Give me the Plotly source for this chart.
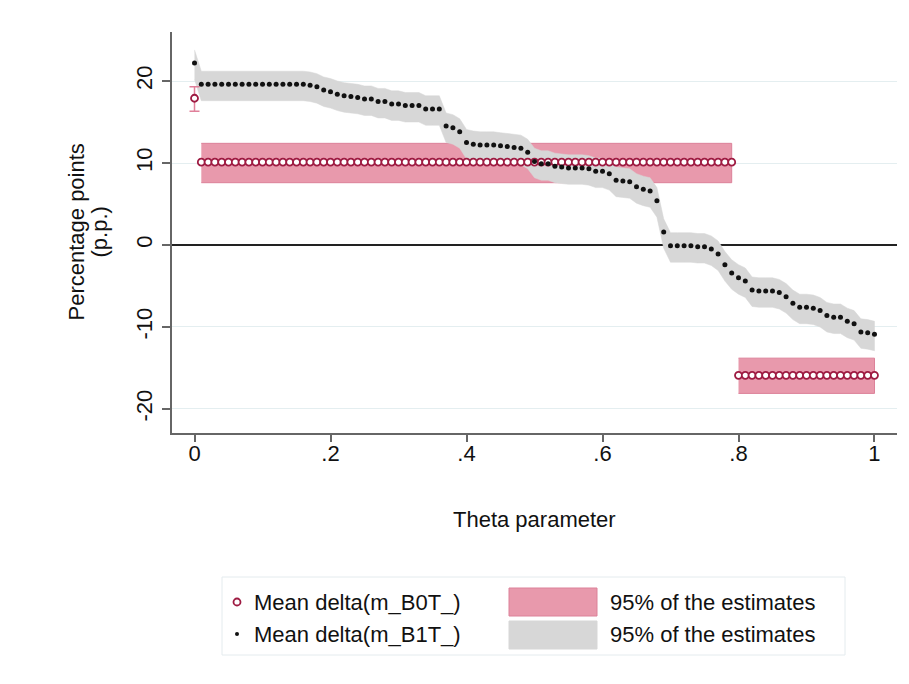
import plotly.graph_objects as go

# ---------------- data ----------------
theta = [round(i / 100, 2) for i in range(101)]
x_ticks = [0, 0.2, 0.4, 0.6, 0.8, 1]
x_ticklabels = ["0", ".2", ".4", ".6", ".8", "1"]
y_ticks = [-20, -10, 0, 10, 20]
y_ticklabels = ["-20", "-10", "0", "10", "20"]

# Mean delta(m_B1T_) (black dots) and its 95% band
b1_mean = [22.2,
           19.6, 19.6, 19.6, 19.6, 19.6, 19.6, 19.6, 19.6, 19.6, 19.6, 19.6, 19.6, 19.6, 19.6, 19.6, 19.6,
           19.5, 19.3, 18.9, 18.7, 18.4, 18.2, 18.1, 18.0, 17.8, 17.8, 17.5, 17.5, 17.2, 17.2, 17.0, 17.0,
           17.0, 16.6, 16.6, 16.6, 14.5, 14.3, 13.8, 12.5, 12.3, 12.2, 12.2, 12.2, 12.1, 12.0, 11.9, 11.8,
           11.3, 10.2, 9.9, 9.9, 9.6, 9.5, 9.4, 9.4, 9.4, 9.3, 9.0, 9.0, 8.7, 7.9, 7.8, 7.7, 7.1, 6.8, 6.6,
           5.4, 1.6, -0.1, -0.1, -0.1, -0.1, -0.2, -0.2, -0.5, -1.1, -2.4, -3.4, -4.0, -4.4, -5.5, -5.6,
           -5.6, -5.6, -5.8, -6.3, -7.1, -7.6, -7.6, -7.7, -8.0, -8.6, -8.8, -8.8, -9.3, -9.6, -10.6,
           -10.7, -10.9]
b1_hi = [23.8,
         21.2, 21.2, 21.2, 21.2, 21.2, 21.2, 21.2, 21.2, 21.2, 21.2, 21.2, 21.2, 21.2, 21.2, 21.2, 21.2,
         21.1, 20.9, 20.5, 20.3, 20.0, 19.8, 19.7, 19.6, 19.4, 19.4, 19.1, 19.1, 18.8, 18.8, 18.6, 18.6,
         18.6, 18.2, 18.2, 18.2, 16.1, 15.9, 15.4, 14.1, 13.9, 13.8, 13.8, 13.8, 13.7, 13.6, 13.5, 13.4,
         12.9, 11.8, 11.5, 11.5, 11.2, 11.1, 11.0, 11.0, 11.0, 10.9, 10.6, 10.6, 10.3, 9.5, 9.4, 9.3, 8.7,
         8.4, 8.2, 7.0, 3.2, 1.5, 1.5, 1.5, 1.5, 1.4, 1.4, 1.1, 0.5, -0.8, -1.8, -2.4, -2.8, -3.9, -4.0,
         -4.0, -4.0, -4.2, -4.7, -5.5, -6.0, -6.0, -6.1, -6.4, -7.0, -7.2, -7.2, -7.7, -8.0, -9.0,
         -9.1, -9.3]
b1_lo = [20.2,
         17.6, 17.6, 17.6, 17.6, 17.6, 17.6, 17.6, 17.6, 17.6, 17.6, 17.6, 17.6, 17.6, 17.6, 17.6, 17.6,
         17.5, 17.3, 16.9, 16.7, 16.4, 16.2, 16.1, 16.0, 15.8, 15.8, 15.5, 15.5, 15.2, 15.2, 15.0, 15.0,
         15.0, 14.6, 14.6, 14.6, 12.5, 12.3, 11.8, 10.5, 10.3, 10.2, 10.2, 10.2, 10.1, 10.0, 9.9, 9.8,
         9.3, 8.2, 7.9, 7.9, 7.6, 7.5, 7.4, 7.4, 7.4, 7.3, 7.0, 7.0, 6.7, 5.9, 5.8, 5.7, 5.1, 4.8, 4.6,
         3.4, -0.4, -2.1, -2.1, -2.1, -2.1, -2.2, -2.2, -2.5, -3.1, -4.4, -5.4, -6.0, -6.4, -7.5, -7.6,
         -7.6, -7.6, -7.8, -8.3, -9.1, -9.6, -9.6, -9.7, -10.0, -10.6, -10.8, -10.8, -11.3, -11.6, -12.6,
         -12.7, -12.9]

# Mean delta(m_B0T_) (hollow red circles) and its 95% range
b0_mean = [17.9] + [10.1] * 79 + [-15.9] * 21
b0_lo = [16.3] + [7.6] * 79 + [-18.1] * 21
b0_hi = [19.3] + [12.4] * 79 + [-13.8] * 21

legend_labels = ["Mean delta(m_B0T_)", "Mean delta(m_B1T_)",
                 "95% of the estimates", "95% of the estimates"]

# ---------------- styling ----------------
FONT = "Liberation Sans, Arial, Helvetica, sans-serif"
FS = 22
PINK = "#e899ac"
PINK_LINE = "#dc8199"
GRAY = "#d7d7d7"
MAROON = "#9e1b42"
ERR = "#e0809a"
AXIS = "#666666"

# page has an 8px body margin; plot area in page pixels
OFF = 8
L, R, T, B = 172, 897, 32, 433
PW, PH = 909, 684
W, H = PW - OFF, PH - OFF


def px2x(px):
    return (px - L) / (R - L)


def py2y(py):
    return (B - py) / (B - T)


fig = go.Figure()

# pink 95% bands for B0T (two segments)
for a, b in [(1, 80), (80, 101)]:
    xs = theta[a:b]
    fig.add_trace(go.Scatter(
        x=xs + xs[::-1], y=b0_hi[a:b] + b0_lo[a:b][::-1],
        fill="toself", fillcolor=PINK, mode="lines",
        line=dict(color=PINK_LINE, width=1), hoverinfo="skip", showlegend=False))

# gray 95% band for B1T
fig.add_trace(go.Scatter(
    x=theta + theta[::-1], y=b1_hi + b1_lo[::-1],
    fill="toself", fillcolor=GRAY, mode="lines",
    line=dict(color=GRAY, width=0.5), hoverinfo="skip", showlegend=False))

# error bar for first B0T point
fig.add_trace(go.Scatter(
    x=[theta[0]], y=[b0_mean[0]], mode="markers",
    marker=dict(size=1, color="rgba(0,0,0,0)"),
    error_y=dict(type="data", symmetric=False,
                 array=[b0_hi[0] - b0_mean[0]], arrayminus=[b0_mean[0] - b0_lo[0]],
                 color=ERR, thickness=1.5, width=5),
    showlegend=False, hoverinfo="skip"))

# hollow red circles
fig.add_trace(go.Scatter(
    x=theta, y=b0_mean, mode="markers", name=legend_labels[0],
    marker=dict(symbol="circle", size=7, color="white",
                line=dict(color=MAROON, width=1.8)),
    showlegend=False))

# black dots
fig.add_trace(go.Scatter(
    x=theta, y=b1_mean, mode="markers", name=legend_labels[1],
    marker=dict(symbol="circle", size=5, color="#111111"),
    showlegend=False))

# ---------------- manual legend ----------------
shapes = []
annotations = []
shapes.append(dict(type="rect", xref="paper", yref="paper",
                   x0=px2x(222), x1=px2x(845), y0=py2y(655), y1=py2y(577),
                   line=dict(color="#e4ebee", width=1), fillcolor="white", layer="below"))
shapes.append(dict(type="circle", xref="paper", yref="paper",
                   x0=px2x(233.5), x1=px2x(240.5), y0=py2y(605.5), y1=py2y(598.5),
                   line=dict(color=MAROON, width=1.8), fillcolor="white"))
shapes.append(dict(type="circle", xref="paper", yref="paper",
                   x0=px2x(235), x1=px2x(239), y0=py2y(636), y1=py2y(632),
                   line=dict(color="#111111", width=0), fillcolor="#111111"))
shapes.append(dict(type="rect", xref="paper", yref="paper",
                   x0=px2x(509), x1=px2x(597), y0=py2y(616), y1=py2y(588),
                   line=dict(color=PINK_LINE, width=1), fillcolor=PINK))
shapes.append(dict(type="rect", xref="paper", yref="paper",
                   x0=px2x(509), x1=px2x(597), y0=py2y(649), y1=py2y(621),
                   line=dict(color=GRAY, width=1), fillcolor=GRAY))

for txt, px, py in [(legend_labels[0], 252, 602), (legend_labels[1], 252, 634),
                    (legend_labels[2], 608, 602), (legend_labels[3], 608, 634)]:
    annotations.append(dict(text=txt, xref="paper", yref="paper",
                            x=px2x(px), y=py2y(py), xanchor="left", yanchor="middle",
                            showarrow=False, font=dict(family=FONT, size=FS, color="#111111")))

# axis titles
annotations.append(dict(text="Theta parameter", xref="paper", yref="paper",
                        x=0.5, y=py2y(519), xanchor="center", yanchor="middle",
                        showarrow=False, font=dict(family=FONT, size=FS, color="#111111")))
for txt, px in [("Percentage points", 76), ("(p.p.)", 99)]:
    annotations.append(dict(text=txt, xref="paper", yref="paper",
                            x=px2x(px), y=0.5, xanchor="center", yanchor="middle",
                            textangle=-90, showarrow=False,
                            font=dict(family=FONT, size=FS, color="#111111")))

fig.update_layout(
    width=W, height=H,
    margin=dict(l=L - OFF, r=PW - R, t=T - OFF, b=PH - B, pad=0),
    paper_bgcolor="white", plot_bgcolor="white",
    font=dict(family=FONT, size=FS, color="#111111"),
    shapes=shapes, annotations=annotations,
    showlegend=False,
)
fig.update_xaxes(
    range=[-0.0331, 1.0331], tickvals=x_ticks, ticktext=x_ticklabels,
    ticks="outside", ticklen=7, tickwidth=1.5, tickcolor=AXIS,
    ticklabelstandoff=-7,
    showline=True, linecolor=AXIS, linewidth=1.5,
    showgrid=False, zeroline=False, tickfont=dict(size=FS))
fig.update_yaxes(
    range=[-22.93, 25.98], tickvals=y_ticks, ticktext=y_ticklabels,
    ticks="outside", ticklen=8, tickwidth=1.5, tickcolor=AXIS, tickangle=-90,
    ticklabelstandoff=1,
    showline=True, linecolor=AXIS, linewidth=1.5,
    showgrid=True, gridcolor="#e4eef0", gridwidth=1,
    zeroline=True, zerolinecolor="#222222", zerolinewidth=1.6,
    tickfont=dict(size=FS))

fig.write_html("out.html")
